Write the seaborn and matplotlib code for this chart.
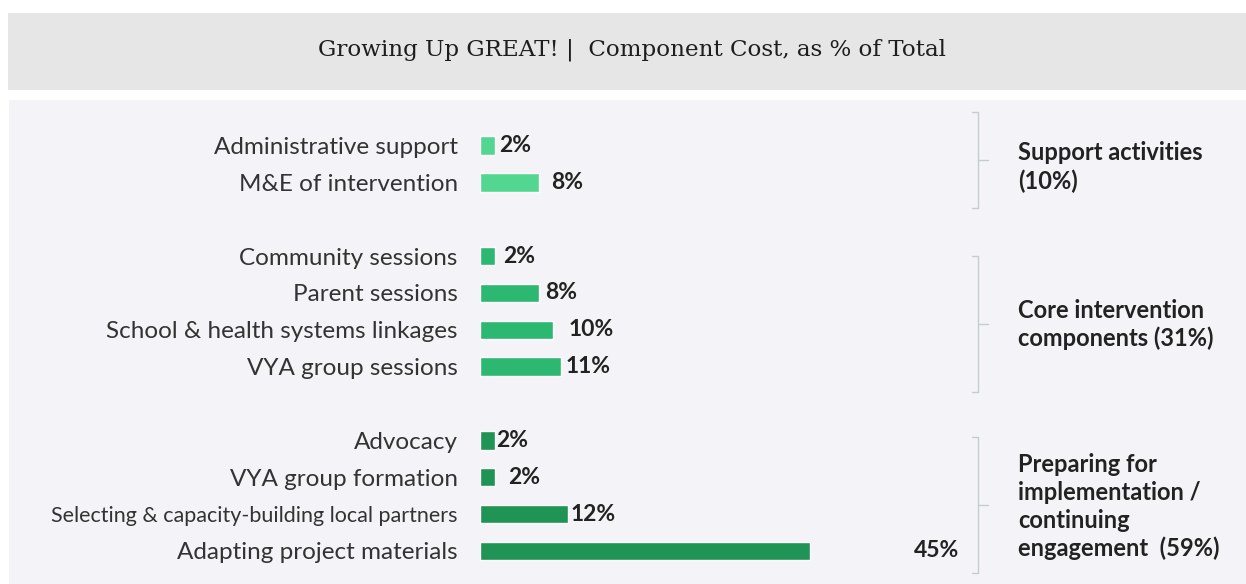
import matplotlib
matplotlib.use("Agg")
import matplotlib.pyplot as plt
import seaborn as sns
import pandas as pd
from matplotlib.patches import Rectangle

# ---------------- data ----------------
categories = [
    "Administrative support",
    "M&E of intervention",
    "Community sessions",
    "Parent sessions",
    "School & health systems linkages",
    "VYA group sessions",
    "Advocacy",
    "VYA group formation",
    "Selecting & capacity-building local partners",
    "Adapting project materials",
]
values = [2, 8, 2, 8, 10, 11, 2, 2, 12, 45]
value_labels = ["2%", "8%", "2%", "8%", "10%", "11%", "2%", "2%", "12%", "45%"]
groups = ["Support", "Support",
          "Core", "Core", "Core", "Core",
          "Prep", "Prep", "Prep", "Prep"]
group_order = ["Support", "Core", "Prep"]
group_labels = [
    "Support activities\n(10%)",
    "Core intervention\ncomponents (31%)",
    "Preparing for\nimplementation /\ncontinuing\nengagement  (59%)",
]
title = "Growing Up GREAT! |  Component Cost, as % of Total"

# ---------------- layout / style ----------------
row_slots = [0, 1, 3, 4, 5, 6, 8, 9, 10, 11]          # row positions (gaps between groups)
label_pads = [0.6, 1.7, 1.1, 0.9, 2.1, 0.6, 0.2, 1.8, 0.4, 14.2]
label_sizes = [17.5, 17.5, 17.5, 17.5, 17.5, 17.5, 17.5, 17.5, 15.5, 17.5]
bracket_spans = [(-0.9, 1.7), (3.0, 6.7), (7.9, 11.6)]
group_text_shift = [0.18, 0.0, 0.05]
palette = {"Support": "#52d690", "Core": "#2db872", "Prep": "#1f9455"}

W, H = 1246, 584
fig = plt.figure(figsize=(W / 100, H / 100), dpi=100)
fig.patch.set_facecolor("white")

# header band
fig.add_artist(Rectangle((8 / W, 1 - 90 / H), (W - 8) / W, 77 / H,
                         transform=fig.transFigure, facecolor="#e6e6e6",
                         edgecolor="none", zorder=0))
fig.text(632 / W, 1 - 50 / H, title, ha="center", va="center",
         fontsize=16.6, family="DejaVu Serif", color="#1e1e1e")

# chart panel background
fig.add_artist(Rectangle((9 / W, 0), (W - 9) / W, 484 / H,
                         transform=fig.transFigure, facecolor="#f4f4f8",
                         edgecolor="none", zorder=0))

sns.set_style("white")
plt.rcParams["font.family"] = ["Lato", "DejaVu Sans"]

x0_px = 480
px_per_unit = (810 - 480) / 45.0
ax = fig.add_axes([x0_px / W, 0, (W - x0_px) / W, 484 / H])
ax.set_facecolor("none")

df = pd.DataFrame({"category": categories, "value": values,
                   "group": groups, "slot": row_slots})

sns.barplot(data=df, x="value", y="slot", hue="group", hue_order=group_order,
            palette=palette, orient="h", native_scale=True, dodge=False,
            width=0.5, saturation=1, legend=False, ax=ax)

ax.set_xlim(0, (W - x0_px) / px_per_unit)
ax.set_ylim(11.896, -1.234)
ax.set_yticks(row_slots)
ax.set_yticklabels(categories, color="#333333")
for tl, fs in zip(ax.get_yticklabels(), label_sizes):
    tl.set_fontsize(fs)
ax.tick_params(axis="y", length=0, pad=16)
ax.set_xticks([])
ax.set_xlabel("")
ax.set_ylabel("")
for s in ax.spines.values():
    s.set_visible(False)

# value labels
for v, lab, pad, y in zip(values, value_labels, label_pads, row_slots):
    ax.text(v + pad, y, lab, ha="left", va="center", fontsize=16.5,
            fontweight="bold", color="#222222")

# brackets and group labels
bx = (978 - x0_px) / px_per_unit
hook = 6 / px_per_unit
tick = 10 / px_per_unit
tx = (1018 - x0_px) / px_per_unit
for (top, bot), glab, sh in zip(bracket_spans, group_labels, group_text_shift):
    mid = (top + bot) / 2
    ax.plot([bx - hook, bx, bx, bx - hook], [top, top, bot, bot],
            color="#c3cccf", lw=1.0, clip_on=False)
    ax.plot([bx, bx + tick], [mid, mid], color="#c3cccf", lw=1.0, clip_on=False)
    ax.text(tx, mid + sh, glab, ha="left", va="center", fontsize=17,
            fontweight="bold", color="#222222", linespacing=1.25)

fig.savefig("out.png", dpi=100)
